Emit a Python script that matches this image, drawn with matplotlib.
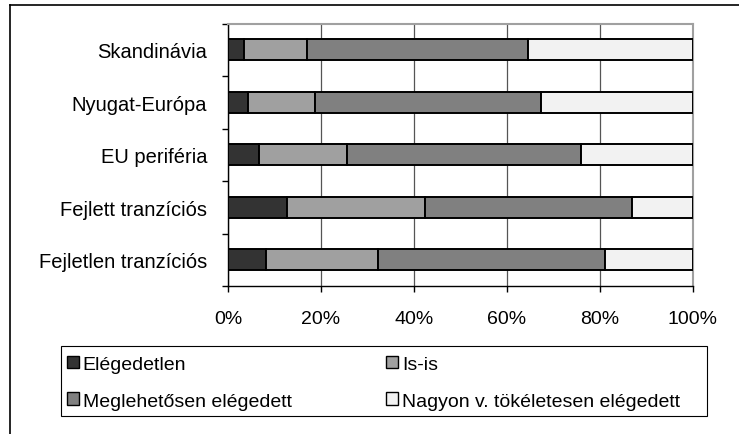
import matplotlib
matplotlib.use("Agg")
import matplotlib.pyplot as plt
from matplotlib.lines import Line2D
from matplotlib.patches import Rectangle
from matplotlib.ticker import FixedLocator, PercentFormatter

plt.rcParams['font.family'] = ['Liberation Sans', 'DejaVu Sans']

regions = ['Skandinávia', 'Nyugat-Európa', 'EU periféria', 'Fejlett tranzíciós', 'Fejletlen tranzíciós']
series = ['Elégedetlen', 'Is-is', 'Meglehetősen elégedett', 'Nagyon v. tökéletesen elégedett']
elegedetlen = [3.5, 4.4, 6.6, 12.6, 8.2]
is_is = [13.4, 14.3, 19.1, 29.8, 24.1]
meglehetosen = [47.7, 48.6, 50.4, 44.5, 48.9]
nagyon = [35.4, 32.7, 23.9, 13.1, 18.8]
colors = ['#333333', '#a0a0a0', '#808080', '#f2f2f2']

W, H = 739, 435
fig = plt.figure(figsize=(W / 100, H / 100), dpi=100)
ax = fig.add_axes([228 / W, 1 - 287 / H, 464.5 / W, 262.4 / H])

ypos = list(range(len(regions)))[::-1]
left = [0] * len(regions)
bars = []
for name, vals, col in zip(series, [elegedetlen, is_is, meglehetosen, nagyon], colors):
    b = ax.barh(ypos, vals, left=left, height=0.4, color=col, edgecolor='black',
                linewidth=1.4, label=name, zorder=3)
    bars.append(b)
    left = [l + v for l, v in zip(left, vals)]

ax.set_xlim(0, 100)
ax.set_ylim(-0.5, len(regions) - 0.5)
ax.set_xticks([0, 20, 40, 60, 80, 100])
ax.xaxis.set_major_formatter(PercentFormatter(decimals=0))
ax.set_yticks(ypos)
ax.set_yticklabels(regions)
ax.yaxis.set_minor_locator(FixedLocator([i - 0.5 for i in range(len(regions) + 1)]))
ax.tick_params(axis='y', which='major', length=0, pad=15, labelsize=14.5)
ax.tick_params(axis='y', which='minor', length=4, width=1, color='black', direction='out')
ax.tick_params(axis='x', length=4, width=1, labelsize=14, pad=13)
ax.grid(axis='x', color='#555555', linewidth=0.9, zorder=0)
ax.set_axisbelow(True)
for s in ['top', 'right']:
    ax.spines[s].set_color('#a0a0a0')
    ax.spines[s].set_linewidth(1.5)
for s in ['left', 'bottom']:
    ax.spines[s].set_color('black')
    ax.spines[s].set_linewidth(1.0)

# legend: row 1 Elégedetlen, Is-is; row 2 Meglehetősen, Nagyon
order = [0, 2, 1, 3]
leg = fig.legend([bars[i] for i in order], [series[i] for i in order], ncol=2,
                 loc='upper left', bbox_to_anchor=(61 / W, 1 - 351 / H),
                 fontsize=14, frameon=False, borderaxespad=0,
                 handlelength=0.62, handleheight=0.62, handletextpad=0.2,
                 columnspacing=4.85, borderpad=0.3, labelspacing=1.0)
for h in leg.legend_handles:
    h.set_linewidth(1.0)
fig.add_artist(Rectangle((61 / W, 1 - 417 / H), (707 - 61) / W, 70 / H,
                         transform=fig.transFigure, fill=False,
                         edgecolor='black', linewidth=0.8))

# outer chart frame (cropped)
fig.add_artist(Line2D([10 / W, 10 / W], [0, 1 - 6 / H], color='black', linewidth=1.2))
fig.add_artist(Line2D([10 / W, 1], [1 - 6 / H, 1 - 6 / H], color='black', linewidth=1.2))

fig.savefig('out.png', dpi=100)
